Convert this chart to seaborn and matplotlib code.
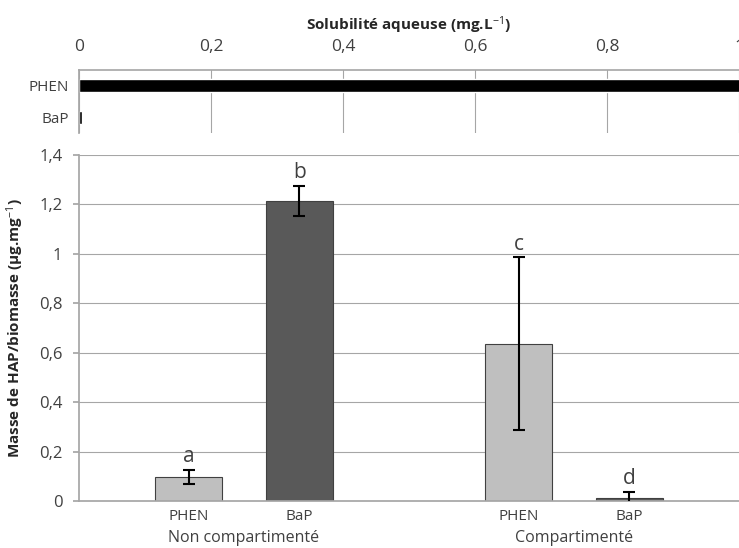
import matplotlib
matplotlib.use("Agg")
import matplotlib.pyplot as plt
import numpy as np
import pandas as pd
import seaborn as sns

# valeurs
groups = ["Non compartimenté", "Compartimenté"]
compounds = ["PHEN", "BaP"]
masse_phen = [0.097, 0.636]
masse_bap = [1.215, 0.013]
err_phen = [0.03, 0.35]
err_bap = [0.06, 0.025]
letters_phen = ["a", "c"]
letters_bap = ["b", "d"]
solubilite = [1.15, 0.0038]  # mg/L, PHEN sort du cadre

colors = {"PHEN": "#bfbfbf", "BaP": "#595959"}
grid_col = "#a6a6a6"
text_col = "#404040"

sns.set_theme(style="white")
plt.rcParams["font.family"] = ["Open Sans", "DejaVu Sans"]
plt.rcParams["mathtext.fontset"] = "custom"
plt.rcParams["mathtext.rm"] = "Open Sans"
plt.rcParams["mathtext.it"] = "Open Sans"
plt.rcParams["mathtext.bf"] = "Open Sans:bold"

df = pd.DataFrame({
    "groupe": groups * 2,
    "compose": ["PHEN"] * 2 + ["BaP"] * 2,
    "masse": masse_phen + masse_bap,
})

fig = plt.figure(figsize=(7.39, 5.48), dpi=100)
ax_top = fig.add_axes([79 / 739, 1 - 133 / 548, 660 / 739, 63 / 548])
ax = fig.add_axes([79 / 739, 1 - 501 / 548, 660 / 739, 346 / 548])

# --- solubilité (barres horizontales) ---
sns.barplot(x=solubilite, y=compounds, orient="h", color="black", width=0.42,
            saturation=1, ax=ax_top)
ax_top.set_xlim(0, 1)
ax_top.set_ylim(1.5, -0.5)
ax_top.xaxis.tick_top()
ax_top.xaxis.set_label_position("top")
ax_top.set_xticks([0, 0.2, 0.4, 0.6, 0.8, 1.0])
ax_top.set_xticklabels(["0", "0,2", "0,4", "0,6", "0,8", "1"], fontsize=12.5, color=text_col)
ax_top.set_xlabel("Solubilité aqueuse (mg.L$^{-1}$)", fontsize=11, fontweight="bold", labelpad=6)
ax_top.tick_params(axis="x", length=0, pad=11)
ax_top.tick_params(axis="y", length=0, labelsize=11, labelcolor=text_col, pad=7)
ax_top.set_yticks([-0.5, 0.5, 1.5], minor=True)
ax_top.tick_params(axis="y", which="minor", length=4, color=grid_col, direction="out")
ax_top.grid(axis="x", color=grid_col, linewidth=0.8)
ax_top.set_axisbelow(True)
for side in ["right", "bottom"]:
    ax_top.spines[side].set_visible(False)
ax_top.spines["top"].set_color(grid_col)
ax_top.spines["top"].set_linewidth(1.2)
ax_top.spines["left"].set_color(grid_col)

# --- masse de HAP / biomasse ---
sns.barplot(data=df, x="groupe", y="masse", hue="compose", order=groups,
            hue_order=compounds, palette=colors, width=0.672, gap=0.396,
            saturation=1, edgecolor="#404040", linewidth=0.8, legend=False, ax=ax)
ax.set_xlim(-0.5, 1.5)
ax.set_ylim(0, 1.4)
ax.set_yticks(np.arange(0, 1.41, 0.2))
ax.set_yticklabels(["0", "0,2", "0,4", "0,6", "0,8", "1", "1,2", "1,4"], fontsize=12, color=text_col)
ax.set_ylabel("Masse de HAP/biomasse (µg.mg$^{-1}$)", fontsize=11, fontweight="bold", labelpad=9)
ax.set_xlabel("")
ax.grid(axis="y", color=grid_col, linewidth=0.8)
ax.set_axisbelow(True)
ax.spines["top"].set_visible(False)
ax.spines["right"].set_visible(False)
ax.spines["left"].set_color(grid_col)
ax.spines["bottom"].set_color(grid_col)
ax.tick_params(axis="y", length=4, color=grid_col, direction="out", left=True, pad=8)

centers = []
labels = []
for cont, errs, letters, name in zip(ax.containers, [err_phen, err_bap],
                                     [letters_phen, letters_bap], compounds):
    for bar, e, let in zip(cont, errs, letters):
        xc = bar.get_x() + bar.get_width() / 2
        h = bar.get_height()
        ax.errorbar(xc, h, yerr=e, color="black", capsize=4, elinewidth=1.5,
                    capthick=1.5, fmt="none", zorder=5)
        ax.annotate(let, (xc, h + e), xytext=(0, 2), textcoords="offset points",
                    ha="center", va="bottom", fontsize=15, color=text_col)
        centers.append(xc)
        labels.append(name)

ax.set_xticks(centers)
ax.set_xticklabels(labels, fontsize=11, color=text_col)
ax.tick_params(axis="x", length=0, pad=6)
for i, g in enumerate(groups):
    ax.annotate(g, (i, 0), xycoords=("data", "axes fraction"), xytext=(0, -21),
                textcoords="offset points", ha="center", va="top", fontsize=11.5,
                color=text_col)

fig.savefig("out.png", dpi=100)
